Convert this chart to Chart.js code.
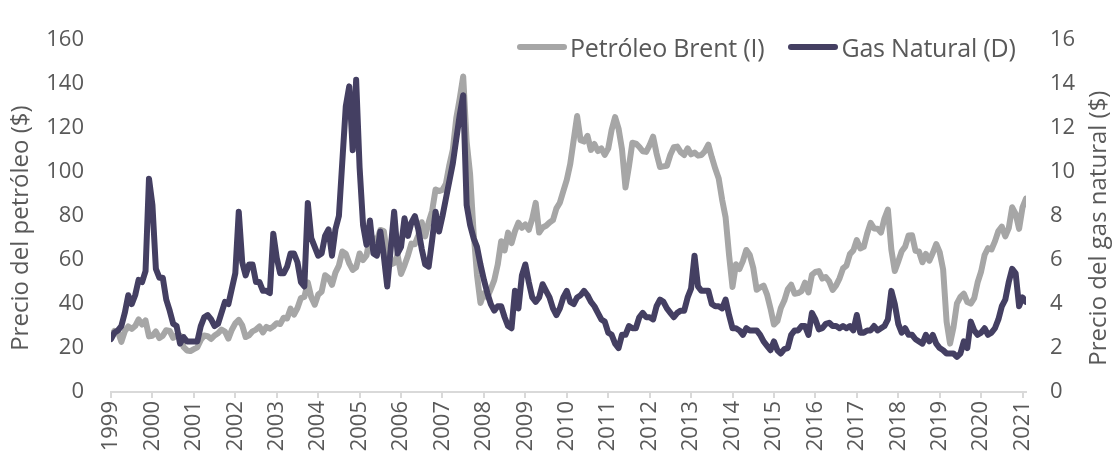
<!DOCTYPE html>
<html lang="es">
<head>
<meta charset="utf-8">
<title>Brent y gas natural</title>
<script src="https://cdn.jsdelivr.net/npm/chart.js@4.4.1/dist/chart.umd.min.js"></script>
<style>
  html, body { margin: 0; padding: 0; background: #fff; }
  .wrap { position: relative; width: 1116px; height: 461px; font-family: "Open Sans", sans-serif; }
  canvas { display: block; }
  .legend { position: absolute; top: 30px; left: 517px; display: flex; align-items: center; color: #595959; font-size: 25px; letter-spacing: -0.2px; }
  .legend-item { display: flex; align-items: center; margin-right: 24px; }
  .legend-line { width: 50px; height: 6px; border-radius: 3px; margin-right: 3px; }
</style>
</head>
<body>
<div class="wrap">
  <canvas id="chart" width="1116" height="461"></canvas>
  <div class="legend" id="legend"></div>
</div>
<script>
// monthly values, axis labels as shown in the chart (first point = start of 1999)
const startYear = 1999;
const yearTicks = [1999, 2000, 2001, 2002, 2003, 2004, 2005, 2006, 2007, 2008, 2009, 2010,
  2011, 2012, 2013, 2014, 2015, 2016, 2017, 2018, 2019, 2020, 2021];

const seriesNames = ["Petróleo Brent (I)", "Gas Natural (D)"];

// Petróleo Brent ($/barril), eje izquierdo
const brent = [
  25.5, 27.8, 27.5, 22.8, 27.6, 29.8, 28.7, 30.0, 33.0, 30.7, 32.6, 25.3,
  25.6, 27.5, 24.5, 25.6, 28.1, 27.8, 24.6, 25.8, 25.7, 20.5, 18.9, 18.6,
  19.5, 20.3, 23.7, 25.7, 25.4, 24.1, 25.7, 26.7, 28.4, 27.5, 24.3, 28.3,
  31.2, 32.8, 30.3, 25.0, 25.8, 27.6, 28.4, 29.8, 27.1, 29.6, 28.8, 29.8,
  31.3, 30.9, 33.8, 33.4, 37.9, 35.2, 38.2, 42.7, 43.2, 49.8, 43.1, 39.7,
  44.3, 45.6, 53.1, 51.9, 48.7, 54.3, 57.5, 63.9, 62.9, 58.5, 55.5, 56.7,
  63.0, 60.0, 62.1, 70.3, 70.0, 68.9, 73.7, 73.2, 62.5, 58.0, 58.7, 62.3,
  53.7, 57.6, 62.1, 67.5, 67.2, 71.3, 77.2, 70.8, 77.2, 82.3, 92.1, 91.4,
  91.9, 94.8, 103.3, 110.2, 124.6, 133.5, 143.5, 113.9, 99.1, 72.8, 53.2, 40.5,
  44.9, 43.1, 46.8, 50.9, 57.9, 68.6, 64.4, 72.5, 67.7, 73.2, 77.0, 74.7,
  76.2, 73.8, 78.8, 86.0, 72.5, 74.8, 75.6, 77.1, 78.2, 83.5, 86.1, 91.4,
  96.5, 103.7, 114.6, 125.5, 114.5, 113.9, 116.5, 110.1, 112.8, 109.6, 110.8, 107.9,
  110.7, 119.3, 125.0, 119.8, 110.3, 93.0, 102.6, 113.4, 113.0, 111.5, 109.5, 109.2,
  112.3, 116.1, 108.5, 102.3, 102.6, 102.9, 107.9, 111.3, 111.6, 109.1, 107.8, 110.8,
  108.1, 108.9, 107.5, 107.8, 109.5, 112.5, 106.8, 101.6, 97.1, 87.4, 79.4, 62.3,
  47.8, 58.1, 55.9, 59.5, 64.6, 62.3, 56.5, 46.5, 47.6, 48.4, 44.3, 38.0,
  30.7, 32.2, 38.2, 41.6, 46.7, 48.8, 44.7, 45.0, 45.9, 49.7, 45.3, 53.3,
  54.6, 55.0, 51.6, 52.3, 50.3, 46.4, 48.5, 51.7, 56.2, 57.5, 62.7, 64.4,
  69.1, 65.3, 66.0, 72.1, 76.9, 74.4, 74.3, 72.5, 78.9, 83.0, 64.8, 55.0,
  59.4, 64.0, 66.1, 71.2, 71.3, 64.2, 63.9, 59.0, 62.8, 59.7, 63.2, 67.3,
  63.6, 55.7, 32.0, 22.0, 29.4, 40.3, 43.2, 44.7, 40.9, 40.2, 42.7, 49.9,
  54.8, 62.3, 65.4, 64.8, 68.5, 73.2, 75.2, 70.8, 74.5, 84.0, 81.0, 74.2,
  84.0, 88.0
];

// Gas natural ($/MMBtu), eje derecho
const gas = [
  2.4, 2.7, 2.8, 3.0, 3.6, 4.4, 4.0, 4.4, 5.1, 5.0, 5.5, 9.7,
  8.5, 5.6, 5.2, 5.2, 4.2, 3.7, 3.1, 3.0, 2.2, 2.5, 2.3, 2.3,
  2.3, 2.3, 3.0, 3.4, 3.5, 3.3, 3.0, 3.1, 3.6, 4.1, 4.0, 4.7,
  5.4, 8.2, 5.9, 5.3, 5.8, 5.8, 5.0, 5.0, 4.6, 4.6, 4.5, 7.2,
  6.1, 5.4, 5.4, 5.7, 6.3, 6.3, 5.9, 5.0, 4.8, 8.6, 7.0, 6.6,
  6.2, 6.3, 7.1, 7.4, 6.2, 7.4, 8.0, 10.5, 13.0, 13.9, 11.0, 14.2,
  10.2, 7.6, 6.7, 7.8, 6.3, 6.2, 7.3, 6.2, 4.8, 6.5, 8.2, 6.3,
  6.6, 7.9, 7.1, 7.7, 8.0, 7.4, 6.5, 5.8, 5.7, 6.9, 8.2, 7.3,
  8.0, 8.8, 9.6, 10.4, 11.5, 12.6, 13.5, 8.5, 7.6, 7.0, 6.6, 5.8,
  5.1, 4.5, 4.0, 3.7, 3.9, 3.9, 3.4, 3.0, 2.9, 4.6, 3.8, 5.3,
  5.8, 5.0, 4.3, 4.1, 4.3, 4.9, 4.6, 4.3, 3.8, 3.5, 3.8, 4.3,
  4.6, 4.1, 4.0, 4.3, 4.4, 4.6, 4.4, 4.1, 3.9, 3.6, 3.3, 3.2,
  2.7, 2.6, 2.2, 2.0, 2.6, 2.6, 3.0, 2.9, 2.9, 3.4, 3.6, 3.4,
  3.4, 3.3, 3.9, 4.2, 4.1, 3.8, 3.6, 3.4, 3.6, 3.7, 3.7, 4.3,
  4.7, 6.2, 4.8, 4.6, 4.6, 4.6, 4.0, 3.9, 3.9, 3.8, 4.2, 3.5,
  2.9, 2.9, 2.8, 2.6, 2.9, 2.8, 2.8, 2.8, 2.6, 2.3, 2.1, 1.9,
  2.3, 1.9, 1.75, 1.95, 2.0, 2.6, 2.8, 2.8, 3.0, 3.0, 2.6, 3.6,
  3.3, 2.85, 2.9, 3.1, 3.15, 3.0, 3.0, 2.9, 3.0, 2.9, 3.0, 2.8,
  3.5, 2.7, 2.7, 2.8, 2.8, 3.0, 2.8, 2.9, 3.0, 3.3, 4.6, 4.0,
  3.1, 2.7, 2.9, 2.6, 2.6, 2.4, 2.3, 2.2, 2.6, 2.3, 2.6, 2.2,
  2.0, 1.9, 1.75, 1.75, 1.75, 1.6, 1.75, 2.3, 2.0, 3.2, 2.8, 2.6,
  2.7, 2.9, 2.6, 2.7, 2.9, 3.3, 3.9, 4.2, 5.0, 5.6, 5.4, 3.9,
  4.3, 4.1
];

const colors = ["#a6a6a6", "#443f62"];
const textColor = "#595959";
const fontFamily = '"Open Sans", sans-serif';

const toPoints = (values) => values.map((v, i) => ({ x: startYear + i / 12, y: v }));
const lastX = startYear + (brent.length - 1) / 12;

// axis titles read bottom-to-top on both sides
const axisTitles = {
  id: "axisTitles",
  afterDraw(chart) {
    const { ctx, chartArea } = chart;
    const cy = (chartArea.top + chartArea.bottom) / 2 + 12;
    ctx.save();
    ctx.font = `24px ${fontFamily}`;
    ctx.fillStyle = textColor;
    ctx.textAlign = "center";
    ctx.textBaseline = "middle";
    [[21, "Precio del petróleo ($)"], [1099, "Precio del gas natural ($)"]].forEach(([x, label]) => {
      ctx.save();
      ctx.translate(x, cy);
      ctx.rotate(-Math.PI / 2);
      ctx.fillText(label, 0, 0);
      ctx.restore();
    });
    ctx.restore();
  },
};

new Chart(document.getElementById("chart"), {
  type: "line",
  data: {
    datasets: [
      {
        label: seriesNames[0],
        data: toPoints(brent),
        borderColor: colors[0],
        borderWidth: 6,
        pointRadius: 0,
        yAxisID: "y",
        order: 2,
      },
      {
        label: seriesNames[1],
        data: toPoints(gas),
        borderColor: colors[1],
        borderWidth: 6,
        pointRadius: 0,
        yAxisID: "y1",
        order: 1,
      },
    ],
  },
  options: {
    responsive: false,
    animation: false,
    layout: { padding: { top: 22, left: 0, right: 0, bottom: 0 } },
    elements: { line: { borderJoinStyle: "round", borderCapStyle: "round", tension: 0 } },
    plugins: { legend: { display: false }, tooltip: { enabled: false } },
    scales: {
      x: {
        type: "linear",
        min: startYear,
        max: lastX,
        afterBuildTicks: (scale) => {
          scale.ticks = yearTicks.map((v) => ({ value: v }));
        },
        afterFit: (scale) => { scale.height = 69; },
        ticks: {
          autoSkip: false,
          minRotation: 90,
          maxRotation: 90,
          padding: 3,
          color: textColor,
          font: { family: fontFamily, size: 22 },
          callback: (v) => String(v),
        },
        grid: { drawOnChartArea: false, drawTicks: true, tickLength: 6, color: "#d9d9d9", lineWidth: 2 },
        border: { display: true, color: "#d9d9d9", width: 2 },
      },
      y: {
        position: "left",
        min: 0,
        max: 160,
        afterFit: (scale) => { scale.width = 111; },
        ticks: { stepSize: 20, padding: 27, color: textColor, font: { family: fontFamily, size: 22 } },
        grid: { display: false, drawTicks: false },
        border: { display: false },
      },
      y1: {
        position: "right",
        min: 0,
        max: 16,
        afterFit: (scale) => { scale.width = 90; },
        ticks: { stepSize: 2, padding: 24, color: textColor, font: { family: fontFamily, size: 22 } },
        grid: { display: false, drawTicks: false },
        border: { display: false },
      },
    },
  },
  plugins: [axisTitles],
});

document.getElementById("legend").innerHTML = seriesNames
  .map((name, idx) => `
    <div class="legend-item">
      <span class="legend-line" style="background:${colors[idx]}"></span>
      <span>${name}</span>
    </div>`)
  .join("");
</script>
</body>
</html>
